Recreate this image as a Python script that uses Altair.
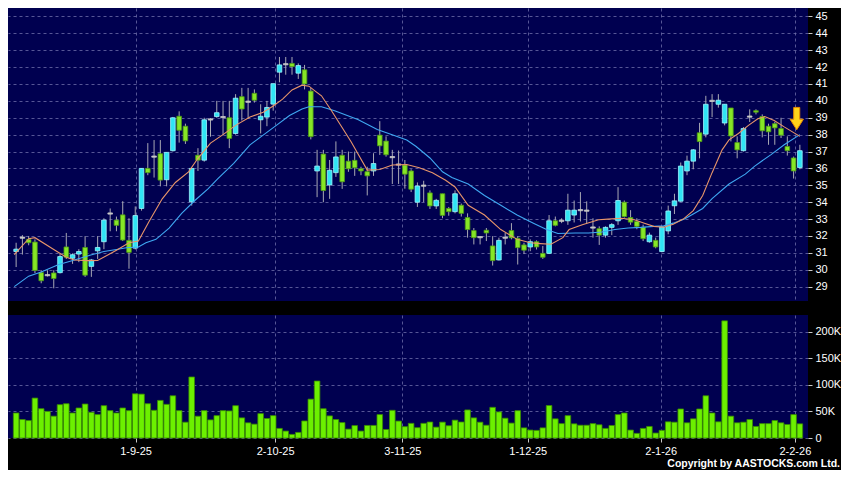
import altair as alt
import pandas as pd

# ---------------- data ----------------
opens = [31.08, 31.90, 31.80, 31.64, 29.83, 29.68, 29.81, 29.83, 31.35, 30.68,
         30.93, 31.32, 30.20, 31.12, 31.66, 33.33, 32.94, 33.25, 31.74, 31.28,
         33.63, 36.00, 36.70, 36.87, 35.33, 37.05, 39.09, 38.50, 34.02, 36.78,
         36.49, 38.90, 39.07, 39.04, 39.00, 38.07, 40.25, 39.95, 40.45, 38.88,
         39.04, 39.81, 41.70, 42.17, 42.22, 41.64, 41.84, 40.58, 35.85, 36.85,
         35.02, 35.75, 36.78, 36.43, 36.48, 35.98, 35.81, 35.85, 37.97, 37.62,
         36.67, 36.23, 36.20, 35.85, 34.00, 34.98, 34.55, 33.78, 34.50, 33.63,
         33.44, 33.82, 33.09, 32.32, 31.93, 32.34, 31.41, 30.58, 31.90, 32.32,
         31.86, 31.47, 31.35, 31.66, 30.97, 30.97, 32.90, 32.90, 32.90, 33.24,
         33.53, 33.50, 32.50, 32.43, 32.05, 32.51, 32.90, 34.00, 33.09, 32.86,
         32.51, 31.66, 31.74, 31.08, 32.30, 33.79, 34.06, 35.85, 36.43, 38.11,
         38.03, 40.00, 39.80, 38.69, 39.58, 37.53, 37.05, 39.07, 39.42, 39.07,
         38.50, 38.65, 38.36, 37.30, 36.62, 36.05]

closes = [31.22, 31.90, 31.60, 29.96, 29.35, 29.68, 29.48, 30.78, 30.74, 30.89,
          31.08, 29.68, 30.58, 31.32, 32.94, 33.33, 32.63, 31.76, 31.03, 33.21,
          36.00, 35.75, 36.70, 35.31, 36.95, 39.00, 38.26, 37.63, 36.00, 36.49,
          38.88, 38.90, 39.30, 39.04, 37.78, 40.16, 39.52, 39.95, 40.04, 39.09,
          39.61, 41.02, 42.13, 42.17, 42.03, 42.09, 41.00, 37.88, 36.14, 34.69,
          35.89, 36.68, 35.21, 35.98, 36.04, 35.85, 35.56, 36.29, 37.34, 36.81,
          36.67, 36.23, 35.66, 34.77, 34.96, 34.98, 33.78, 34.11, 33.22, 33.44,
          34.50, 33.34, 32.38, 31.90, 31.93, 32.18, 30.54, 31.74, 31.90, 31.89,
          31.31, 31.16, 31.66, 31.35, 30.74, 32.90, 32.63, 32.90, 33.53, 33.53,
          33.53, 33.50, 32.50, 32.05, 32.51, 32.67, 34.10, 33.15, 32.82, 32.57,
          31.84, 32.05, 31.35, 32.54, 33.48, 34.08, 36.14, 36.43, 37.10, 37.59,
          39.80, 40.00, 40.04, 39.80, 37.92, 37.10, 38.36, 39.07, 39.33, 38.23,
          38.17, 38.40, 37.97, 37.05, 35.85, 37.05]

highs = [31.60, 32.05, 32.00, 31.80, 29.97, 29.97, 29.97, 30.93, 32.18, 30.97,
         31.22, 31.99, 30.64, 31.99, 33.05, 33.63, 33.15, 34.06, 33.05, 33.75,
         36.00, 37.50, 37.68, 37.68, 36.95, 39.05, 39.38, 38.65, 36.00, 37.20,
         39.00, 38.98, 40.00, 40.00, 40.00, 40.40, 40.77, 40.77, 40.68, 39.80,
         40.00, 41.02, 42.60, 42.60, 42.60, 42.22, 42.13, 40.77, 37.10, 37.10,
         36.50, 37.60, 37.10, 37.00, 37.00, 36.10, 36.10, 36.90, 38.80, 37.90,
         37.10, 37.06, 36.50, 35.95, 35.17, 35.27, 34.70, 34.20, 34.50, 33.72,
         34.70, 33.92, 33.34, 32.47, 31.99, 32.47, 31.99, 31.90, 32.18, 32.76,
         31.99, 31.60, 31.80, 31.74, 31.41, 33.24, 33.15, 33.05, 34.50, 34.10,
         34.60, 34.05, 33.05, 32.57, 32.57, 32.76, 34.89, 34.10, 33.53, 33.05,
         32.67, 32.20, 31.90, 32.57, 33.80, 34.50, 36.35, 36.76, 37.15, 38.70,
         40.30, 40.40, 40.40, 39.80, 39.58, 37.90, 38.45, 39.50, 39.50, 39.20,
         38.65, 38.75, 39.00, 37.90, 36.70, 37.40]

lows = [30.16, 30.90, 31.45, 29.80, 29.20, 29.60, 28.90, 29.78, 30.64, 30.35,
        30.45, 29.58, 29.58, 30.64, 31.22, 32.28, 32.28, 31.70, 30.06, 31.20,
        33.50, 35.60, 35.46, 34.94, 34.94, 37.00, 37.53, 37.45, 33.80, 35.85,
        36.40, 37.88, 39.00, 37.97, 37.20, 38.00, 38.84, 38.94, 39.90, 38.07,
        38.50, 39.42, 41.10, 41.55, 41.55, 41.30, 40.68, 37.72, 34.30, 34.00,
        34.20, 35.50, 34.79, 35.80, 35.56, 35.60, 34.40, 35.56, 36.80, 36.70,
        35.08, 35.08, 34.80, 34.60, 33.72, 34.00, 33.60, 33.60, 33.05, 33.20,
        33.34, 33.15, 31.90, 31.50, 31.50, 31.70, 30.25, 30.55, 31.50, 31.80,
        30.31, 30.93, 31.10, 31.20, 30.64, 30.93, 32.57, 32.76, 32.66, 32.80,
        32.86, 32.76, 31.90, 31.47, 31.90, 32.05, 32.66, 33.09, 32.66, 32.40,
        31.70, 31.60, 31.27, 31.03, 32.10, 33.30, 34.02, 35.60, 35.95, 36.60,
        37.84, 39.04, 39.60, 38.55, 37.60, 36.60, 37.00, 38.75, 39.20, 37.84,
        37.40, 37.40, 37.80, 36.76, 35.40, 35.95]

volumes = [47000, 34700, 32800, 75000, 55000, 50000, 41000, 62600, 64400, 47000,
           56400, 63800, 48300, 44000, 60700, 51400, 47000, 56400, 51400, 83000,
           82400, 64400, 52000, 70600, 63200, 79300, 51400, 29700, 114600, 40900,
           51400, 34000, 42000, 51400, 50800, 60700, 37800, 28500, 26000, 45800,
           36600, 42000, 18000, 13000, 6800, 10500, 32000, 73000, 107000, 55000,
           41500, 34700, 29000, 16700, 23300, 13000, 23600, 23600, 44000, 16000,
           52000, 31800, 21300, 27500, 19400, 27500, 30000, 20400, 29800, 23000,
           33500, 30000, 52700, 37800, 29700, 24000, 57600, 49000, 37200, 28000,
           51400, 19000, 14900, 14300, 19000, 61000, 36000, 27000, 42000, 26600,
           24000, 24000, 27000, 24800, 18000, 23500, 44000, 47000, 14900, 8700,
           18000, 21700, 9300, 14300, 30400, 29700, 54500, 28500, 36000, 54500,
           79300, 47000, 30400, 220000, 41000, 28500, 29700, 34700, 21700, 27000,
           27000, 32800, 28500, 25400, 44000, 26600]

# moving-average lines, read at sample positions (bar index)
fast_x = [-0.3, 2, 3, 6, 8, 9.3, 11.4, 13, 16, 18, 19.5, 21.2, 23.3, 25.4, 27.5, 29,
          31, 33, 35, 37.3, 39.4, 41, 42.5, 44, 45.6, 46.7, 47.7, 48.7, 50.3, 53.4,
          56, 58, 60, 62.3, 64.3, 66.4, 68.5, 70, 72.1, 74.7, 77.3, 79.9, 82, 83.6,
          85.3, 87.2, 88.2, 90.3, 92.9, 94.4, 96.5, 98.6, 100.2, 101.7, 103.3, 104.8,
          106.4, 108, 109.5, 111, 112.6, 113.7, 115.2, 116.8, 118.3, 119.4, 120.9,
          122.5, 125]
fast_ma = [30.89, 31.84, 31.9, 31.2, 30.74, 30.58, 30.54, 30.55, 31.15, 31.6, 31.7,
           32.86, 34.2, 35.17, 35.8, 36.6, 37.5, 38.0, 38.55, 39.04, 39.33, 39.7,
           40.1, 40.65, 40.93, 40.87, 40.58, 40.3, 39.42, 37.6, 35.9, 35.94, 36.2,
           36.23, 36.04, 35.75, 35.3, 34.9, 33.82, 33.24, 32.38, 31.8, 31.6, 31.55,
           31.51, 31.9, 32.38, 32.67, 32.96, 33.0, 33.05, 32.96, 32.76, 32.57, 32.52,
           32.7, 33.0, 33.5, 34.4, 35.75, 37.1, 37.69, 38.07, 38.55, 38.94, 39.07,
           38.84, 38.46, 37.9]
slow_x = [-0.3, 2, 4, 6.7, 9.3, 11.9, 14, 16, 17.6, 19.5, 20.7, 22.3, 24.4, 26.4,
          28.5, 30.6, 32.1, 34.7, 37.3, 39.4, 41.5, 43.6, 45.6, 46.7, 48.7, 50.8,
          54.5, 57.6, 60.2, 62.3, 63.8, 66, 68, 69.5, 72.1, 74.7, 77.3, 79.9, 82.5,
          84.6, 86.4, 89.2, 91.3, 93.4, 95.5, 97.6, 99.6, 101.7, 103.3, 104.8, 106.6,
          108, 109.5, 111, 113.7, 116.3, 117.8, 120.4, 122.5, 125]
slow_ma = [29.0, 29.62, 29.87, 30.3, 30.58, 30.87, 31.08, 31.2, 31.3, 31.35, 31.6,
           31.8, 32.47, 33.34, 34.1, 34.79, 35.37, 36.3, 37.4, 37.97, 38.55, 39.13,
           39.52, 39.65, 39.65, 39.42, 38.9, 38.3, 37.97, 37.68, 37.3, 36.62, 35.8,
           35.46, 35.08, 34.4, 33.82, 33.24, 32.76, 32.38, 32.15, 32.18, 32.18, 32.24,
           32.38, 32.47, 32.51, 32.57, 32.6, 32.76, 33.0, 33.3, 33.63, 34.21, 35.08,
           35.66, 36.14, 36.82, 37.4, 38.0]

tick_pos = [19.05, 41.3, 61.6, 81.6, 102.8, 124.2]
tick_labels = ["1-9-25", "2-10-25", "3-11-25", "1-12-25", "2-1-26", "2-2-26"]
price_ticks = list(range(29, 46))
volume_ticks = [0, 50000, 100000, 150000, 200000]
arrow_pos = [124.5]
arrow_price = [38.95]
copyright_text = ["Copyright by AASTOCKS.com Ltd."]

# ---------------- frames ----------------
n = len(closes)
def direction(o, c):
    if c > o:
        return "up"
    if c < o:
        return "down"
    return "flat"

df = pd.DataFrame({"i": list(range(n)), "open": opens, "high": highs, "low": lows,
                   "close": closes, "volume": volumes})
df["dir"] = [direction(o, c) for o, c in zip(opens, closes)]
df["body_lo"] = [min(o, c) if o != c else o - 0.035 for o, c in zip(opens, closes)]
df["body_hi"] = [max(o, c) if o != c else o + 0.035 for o, c in zip(opens, closes)]

fast_df = pd.DataFrame({"i": fast_x, "v": fast_ma})
slow_df = pd.DataFrame({"i": slow_x, "v": slow_ma})
arrow_df = pd.DataFrame({"i": arrow_pos, "v": arrow_price})
copy_df = pd.DataFrame({"t": copyright_text})

W = 800
H1 = 293
H2 = 123
FONT = "Liberation Sans"

xscale = alt.Scale(domain=[-0.5, 125.5], nice=False, zero=False)
pscale = alt.Scale(domain=[28.15, 45.5], nice=False, zero=False)
vscale = alt.Scale(domain=[0, 231000], nice=False)

label_expr = ("[" + ",".join("'%s'" % t for t in tick_labels) + "][indexof(["
              + ",".join(str(p) for p in tick_pos) + "], datum.value)]")


def x_top():
    return alt.X("i:Q", scale=xscale,
                 axis=alt.Axis(values=tick_pos, labels=False, ticks=False, domain=False,
                               grid=True, title=None))


def y_price(field):
    return alt.Y(field, scale=pscale,
                 axis=alt.Axis(orient="right", values=price_ticks, title=None, grid=True,
                               domain=False, tickSize=4, labelPadding=3))


dir_color = alt.Color("dir:N", legend=None,
                      scale=alt.Scale(domain=["up", "down", "flat"],
                                      range=["#30e4f4", "#86e626", "#c8c8c8"]))
dir_stroke = alt.Stroke("dir:N", legend=None,
                        scale=alt.Scale(domain=["up", "down", "flat"],
                                        range=["#a0f6ff", "#4c9a14", "#c8c8c8"]))

wicks = alt.Chart(df).mark_rule(color="#a9a9b4", strokeWidth=1).encode(
    x=x_top(), y=y_price("low:Q"), y2="high:Q")
bodies = alt.Chart(df).mark_bar(size=4.6, strokeWidth=0.8).encode(
    x=x_top(), y=y_price("body_lo:Q"), y2="body_hi:Q",
    color=dir_color, stroke=dir_stroke)
fast_line = alt.Chart(fast_df).mark_line(color="#e8956a", strokeWidth=1.1).encode(
    x=x_top(), y=y_price("v:Q"))
slow_line = alt.Chart(slow_df).mark_line(color="#3fa8f2", strokeWidth=1.1).encode(
    x=x_top(), y=y_price("v:Q"))
arrow_path = "M -0.27 -1 L 0.27 -1 L 0.27 0.05 L 0.6 0.05 L 0 1 L -0.6 0.05 L -0.27 0.05 Z"
arrow = alt.Chart(arrow_df).mark_point(shape=arrow_path, size=500, filled=True,
                                       fill="#ffd21a", stroke="#e88a00",
                                       strokeWidth=1, opacity=1).encode(
    x=x_top(), y=y_price("v:Q"))

top = alt.layer(wicks, bodies, slow_line, fast_line, arrow).properties(width=W, height=H1)

vbars = alt.Chart(df).mark_bar(size=5.6, fill="#6cf000", stroke="#3a8c00",
                               strokeWidth=0.8).encode(
    x=alt.X("i:Q", scale=xscale,
            axis=alt.Axis(values=tick_pos, labelExpr=label_expr, grid=True, domain=False,
                          tickSize=4, title=None, labelPadding=3, labelFlush=False)),
    y=alt.Y("volume:Q", scale=vscale,
            axis=alt.Axis(orient="right", values=volume_ticks, title=None, grid=True,
                          domain=False, tickSize=4, labelPadding=3,
                          labelExpr="datum.value == 0 ? '0' : (datum.value / 1000) + 'K'")),
)
copy_txt = alt.Chart(copy_df).mark_text(align="right", baseline="alphabetic", fontSize=10.5,
                                        fontWeight="bold", color="#ffffff", font=FONT).encode(
    x=alt.value(W + 32), y=alt.value(H2 + 29), text="t:N")

vol = alt.layer(vbars, copy_txt).properties(width=W, height=H2)

chart = alt.vconcat(top, vol, spacing=14).properties(
    padding=0, background="#000000"
).configure_view(
    fill="#000050", stroke=None
).configure_axis(
    labelColor="#ffffff", labelFont=FONT, labelFontSize=11,
    tickColor="#c8c8c8", gridColor="#6c6ca8", gridDash=[3, 3], gridWidth=0.8
)

chart.save("out.html", embed_options={"renderer": "svg", "actions": False})
